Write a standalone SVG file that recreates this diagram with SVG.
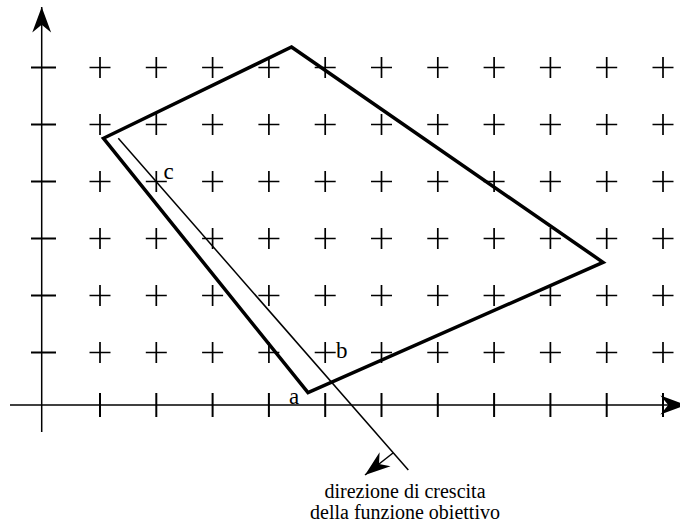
<svg xmlns="http://www.w3.org/2000/svg" xmlns:xlink="http://www.w3.org/1999/xlink" width="680" height="523" viewBox="0 0 680 523">
<style>
.ax{stroke:#000;stroke-width:1.5;fill:none}
.tk{stroke:#000;stroke-width:2;fill:none}
.cr{stroke:#000;stroke-width:1.7;fill:none}
.poly{stroke:#000;stroke-width:3.5;fill:none;stroke-linejoin:miter}
.thin{stroke:#000;stroke-width:1.5;fill:none}
text{font-family:'Liberation Serif','DejaVu Serif',serif;fill:#000}
.lbl{font-size:23px}
.cap{font-size:20px;text-anchor:middle}
</style>
<defs>
<marker id="ah" markerUnits="userSpaceOnUse" markerWidth="30" markerHeight="30" viewBox="-25 -10 27 20" refX="0" refY="0" orient="auto">
<path d="M0,0 L-23,-8.5 L-16,0 L-23,8.5 Z" fill="#000"/>
</marker>
<marker id="ah2" markerUnits="userSpaceOnUse" markerWidth="30" markerHeight="30" viewBox="-25 -10 27 20" refX="0" refY="0" orient="auto">
<path d="M0,0 L-23,-8 L-16,0 L-23,8 Z" fill="#000"/>
</marker>
<path id="cross" d="M-10.5,0 H10.5 M0,-10.5 V10.5"/>
</defs>
<g id="axes">
<line class="ax" x1="41.7" y1="432" x2="41.7" y2="7" marker-end="url(#ah)"/>
<line class="ax" x1="10" y1="405" x2="686" y2="405" marker-end="url(#ah)"/>
<g id="yticks" class="tk">
<line x1="31" y1="67.5" x2="56" y2="67.5"/>
<line x1="31" y1="124.5" x2="56" y2="124.5"/>
<line x1="31" y1="181.5" x2="56" y2="181.5"/>
<line x1="31" y1="238.5" x2="56" y2="238.5"/>
<line x1="31" y1="295.5" x2="56" y2="295.5"/>
<line x1="31" y1="352.5" x2="56" y2="352.5"/>
</g>
<g id="xticks" class="tk">
<line x1="100" y1="393" x2="100" y2="417"/>
<line x1="156.3" y1="393" x2="156.3" y2="417"/>
<line x1="212.6" y1="393" x2="212.6" y2="417"/>
<line x1="268.9" y1="393" x2="268.9" y2="417"/>
<line x1="325.2" y1="393" x2="325.2" y2="417"/>
<line x1="381.5" y1="393" x2="381.5" y2="417"/>
<line x1="437.8" y1="393" x2="437.8" y2="417"/>
<line x1="494.1" y1="393" x2="494.1" y2="417"/>
<line x1="550.4" y1="393" x2="550.4" y2="417"/>
<line x1="606.7" y1="393" x2="606.7" y2="417"/>
<line x1="663" y1="393" x2="663" y2="417"/>
</g>
</g>
<g id="grid" class="cr">
<g transform="translate(0,67.5)">
<use xlink:href="#cross" x="100"/><use xlink:href="#cross" x="156.3"/><use xlink:href="#cross" x="212.6"/><use xlink:href="#cross" x="268.9"/><use xlink:href="#cross" x="325.2"/><use xlink:href="#cross" x="381.5"/><use xlink:href="#cross" x="437.8"/><use xlink:href="#cross" x="494.1"/><use xlink:href="#cross" x="550.4"/><use xlink:href="#cross" x="606.7"/><use xlink:href="#cross" x="663"/>
</g>
<g transform="translate(0,124.5)">
<use xlink:href="#cross" x="100"/><use xlink:href="#cross" x="156.3"/><use xlink:href="#cross" x="212.6"/><use xlink:href="#cross" x="268.9"/><use xlink:href="#cross" x="325.2"/><use xlink:href="#cross" x="381.5"/><use xlink:href="#cross" x="437.8"/><use xlink:href="#cross" x="494.1"/><use xlink:href="#cross" x="550.4"/><use xlink:href="#cross" x="606.7"/><use xlink:href="#cross" x="663"/>
</g>
<g transform="translate(0,181.5)">
<use xlink:href="#cross" x="100"/><use xlink:href="#cross" x="156.3"/><use xlink:href="#cross" x="212.6"/><use xlink:href="#cross" x="268.9"/><use xlink:href="#cross" x="325.2"/><use xlink:href="#cross" x="381.5"/><use xlink:href="#cross" x="437.8"/><use xlink:href="#cross" x="494.1"/><use xlink:href="#cross" x="550.4"/><use xlink:href="#cross" x="606.7"/><use xlink:href="#cross" x="663"/>
</g>
<g transform="translate(0,238.5)">
<use xlink:href="#cross" x="100"/><use xlink:href="#cross" x="156.3"/><use xlink:href="#cross" x="212.6"/><use xlink:href="#cross" x="268.9"/><use xlink:href="#cross" x="325.2"/><use xlink:href="#cross" x="381.5"/><use xlink:href="#cross" x="437.8"/><use xlink:href="#cross" x="494.1"/><use xlink:href="#cross" x="550.4"/><use xlink:href="#cross" x="606.7"/><use xlink:href="#cross" x="663"/>
</g>
<g transform="translate(0,295.5)">
<use xlink:href="#cross" x="100"/><use xlink:href="#cross" x="156.3"/><use xlink:href="#cross" x="212.6"/><use xlink:href="#cross" x="268.9"/><use xlink:href="#cross" x="325.2"/><use xlink:href="#cross" x="381.5"/><use xlink:href="#cross" x="437.8"/><use xlink:href="#cross" x="494.1"/><use xlink:href="#cross" x="550.4"/><use xlink:href="#cross" x="606.7"/><use xlink:href="#cross" x="663"/>
</g>
<g transform="translate(0,352.5)">
<use xlink:href="#cross" x="100"/><use xlink:href="#cross" x="156.3"/><use xlink:href="#cross" x="212.6"/><use xlink:href="#cross" x="268.9"/><use xlink:href="#cross" x="325.2"/><use xlink:href="#cross" x="381.5"/><use xlink:href="#cross" x="437.8"/><use xlink:href="#cross" x="494.1"/><use xlink:href="#cross" x="550.4"/><use xlink:href="#cross" x="606.7"/><use xlink:href="#cross" x="663"/>
</g>
</g>
<g id="region">
<polygon class="poly" points="291.5,47 603,262.3 308,392.7 103.5,138.3"/>
</g>
<g id="connectors">
<line class="thin" x1="118.3" y1="138.3" x2="408.3" y2="470"/>
<line class="thin" x1="393" y1="453" x2="365" y2="475" marker-end="url(#ah2)"/>
</g>
<g id="labels">
<text class="lbl" x="163.5" y="179">c</text>
<text class="lbl" x="336" y="357.5">b</text>
<text class="lbl" x="289" y="404">a</text>
<text class="cap" x="405" y="498">direzione di crescita</text>
<text class="cap" x="405" y="519">della funzione obiettivo</text>
</g>
</svg>
